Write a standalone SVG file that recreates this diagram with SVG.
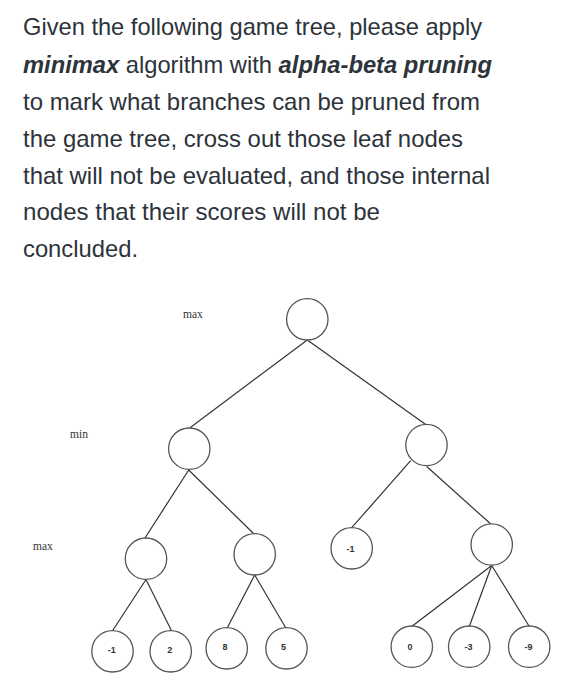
<svg xmlns="http://www.w3.org/2000/svg" width="581" height="700" viewBox="0 0 581 700">
<style>
.q{font-family:"Liberation Sans",Arial,sans-serif;font-size:24px;fill:#2d333a}
.bi{font-weight:bold;font-style:italic}
.lvl{font-family:"Liberation Serif","Times New Roman",serif;font-size:11.5px;fill:#333}
.n{fill:#fff;stroke:#555;stroke-width:1.3}
.v{font-family:"Liberation Sans",Arial,sans-serif;font-size:9px;font-weight:bold;fill:#333;text-anchor:middle}
.e{stroke:#333;stroke-width:1.2;fill:none}
</style>
<rect width="581" height="700" fill="#fff"/>
<g id="question">
<text class="q" x="23" y="35" textLength="459" lengthAdjust="spacingAndGlyphs">Given the following game tree, please apply</text>
<text class="q" x="23" y="72.5" textLength="469" lengthAdjust="spacingAndGlyphs"><tspan class="bi">minimax</tspan> algorithm with <tspan class="bi">alpha-beta pruning</tspan></text>
<text class="q" x="23" y="110" textLength="457" lengthAdjust="spacingAndGlyphs">to mark what branches can be pruned from</text>
<text class="q" x="23" y="147" textLength="440" lengthAdjust="spacingAndGlyphs">the game tree, cross out those leaf nodes</text>
<text class="q" x="23" y="183.5" textLength="467" lengthAdjust="spacingAndGlyphs">that will not be evaluated, and those internal</text>
<text class="q" x="23" y="220" textLength="357" lengthAdjust="spacingAndGlyphs">nodes that their scores will not be</text>
<text class="q" x="23" y="257" textLength="115" lengthAdjust="spacingAndGlyphs">concluded.</text>
</g>
<g id="levels">
<text class="lvl" x="183" y="318">max</text>
<text class="lvl" x="70" y="438">min</text>
<text class="lvl" x="33" y="550">max</text>
</g>
<g id="connectors">
<line class="e" x1="307.3" y1="340" x2="190" y2="427.7"/>
<line class="e" x1="308" y1="340.5" x2="425.7" y2="424.5"/>
<line class="e" x1="188.7" y1="470" x2="145" y2="538"/>
<line class="e" x1="188.7" y1="470" x2="253.3" y2="533.3"/>
<line class="e" x1="410.7" y1="460.7" x2="351.7" y2="527.7"/>
<line class="e" x1="426.7" y1="466.5" x2="490.5" y2="523.8"/>
<line class="e" x1="146" y1="579.5" x2="112.7" y2="630.5"/>
<line class="e" x1="146" y1="579.5" x2="171.5" y2="630.7"/>
<line class="e" x1="254.7" y1="575" x2="227.3" y2="627.7"/>
<line class="e" x1="254.7" y1="575" x2="285.7" y2="627.7"/>
<line class="e" x1="491.7" y1="565.5" x2="411.7" y2="626.5"/>
<line class="e" x1="491.7" y1="565.5" x2="469.3" y2="626.5"/>
<line class="e" x1="491.7" y1="565.5" x2="529.3" y2="626.5"/>
</g>
<g id="root"><circle class="n" cx="307.3" cy="319.3" r="20.7"/></g>
<g id="min-left"><circle class="n" cx="189.3" cy="448.7" r="20.7"/></g>
<g id="min-right"><circle class="n" cx="426.5" cy="445" r="20.7"/></g>
<g id="max-a"><circle class="n" cx="146" cy="558.7" r="20.7"/></g>
<g id="max-b"><circle class="n" cx="254.7" cy="554.3" r="20.7"/></g>
<g id="leaf-c"><circle class="n" cx="351.7" cy="548.3" r="20.7"/><text class="v" x="350.5" y="551.5">-1</text></g>
<g id="max-d"><circle class="n" cx="491.7" cy="544.5" r="20.7"/></g>
<g id="leaf-1"><circle class="n" cx="112.5" cy="651.3" r="20.7"/><text class="v" x="111.7" y="653.2">-1</text></g>
<g id="leaf-2"><circle class="n" cx="170.7" cy="651.3" r="20.7"/><text class="v" x="169.7" y="653.2">2</text></g>
<g id="leaf-3"><circle class="n" cx="226.7" cy="648.3" r="20.7"/><text class="v" x="225" y="650">8</text></g>
<g id="leaf-4"><circle class="n" cx="286.5" cy="648.3" r="20.7"/><text class="v" x="283.5" y="650">5</text></g>
<g id="leaf-5"><circle class="n" cx="411.8" cy="646.7" r="20.7"/><text class="v" x="410" y="649.5">0</text></g>
<g id="leaf-6"><circle class="n" cx="469.2" cy="646.7" r="20.7"/><text class="v" x="468.5" y="649.5">-3</text></g>
<g id="leaf-7"><circle class="n" cx="529.2" cy="646.7" r="20.7"/><text class="v" x="528.5" y="649.5">-9</text></g>
</svg>
